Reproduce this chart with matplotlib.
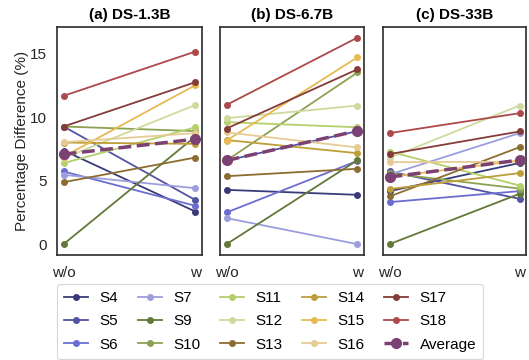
import matplotlib
matplotlib.use("Agg")
import matplotlib.pyplot as plt
import numpy as np

plt.rcParams['font.family'] = ['Liberation Sans', 'DejaVu Sans']
plt.rcParams['font.size'] = 11

series_names = ["S4", "S5", "S6", "S7", "S9", "S10", "S11", "S12", "S13",
                "S14", "S15", "S16", "S17", "S18"]
x_labels = ["w/o", "w"]
panel_titles = ["(a) DS-1.3B", "(b) DS-6.7B", "(c) DS-33B"]

# values (w/o, w) per series for each panel
ds13_wo = [7.38, 9.26, 5.74, 5.48, 0.05, 9.26, 6.39, 6.78, 4.90, 8.00, 6.90, 8.03, 9.26, 11.66]
ds13_w = [2.60, 3.50, 3.05, 4.43, 8.48, 8.90, 9.20, 10.95, 6.83, 7.90, 12.50, 8.74, 12.73, 15.13]
ds67_wo = [4.30, 6.60, 2.53, 2.09, 0.05, 6.60, 9.60, 9.91, 5.37, 8.20, 8.16, 8.80, 9.10, 10.95]
ds67_w = [3.91, 8.90, 6.57, 0.05, 6.62, 13.49, 9.20, 10.90, 5.95, 7.17, 14.68, 7.62, 13.74, 16.22]
ds33_wo = [4.20, 5.74, 3.34, 5.50, 0.05, 5.60, 7.30, 6.80, 3.78, 4.36, 5.30, 6.47, 7.10, 8.74]
ds33_w = [6.40, 3.60, 4.20, 8.74, 3.99, 4.40, 4.64, 10.90, 7.64, 5.61, 6.60, 6.50, 8.87, 10.30]

avg_wo = [7.09, 6.60, 5.30]
avg_w = [8.27, 8.92, 6.63]

panels = [(ds13_wo, ds13_w), (ds67_wo, ds67_w), (ds33_wo, ds33_w)]

cmap = plt.get_cmap("tab20b")
colors = [cmap(i) for i in range(14)]
avg_color = cmap(16)

fig = plt.figure(figsize=(5.29, 3.6), dpi=100)
W, H = 529, 360
axes_px = [(57, 202), (220, 364), (383, 526)]
top_px, bot_px = 27, 255
axes = []
for i, (l, r) in enumerate(axes_px):
    ax = fig.add_axes([l / W, 1 - bot_px / H, (r - l) / W, (bot_px - top_px) / H],
                      sharey=axes[0] if axes else None)
    axes.append(ax)

x = np.arange(len(x_labels))
handles = []
for pi, ax in enumerate(axes):
    wo, w = panels[pi]
    for si, name in enumerate(series_names):
        ln, = ax.plot(x, [wo[si], w[si]], color=colors[si], lw=1.3,
                      marker='o', markersize=4, label=name)
        if pi == 0:
            handles.append(ln)
    ln, = ax.plot(x, [avg_wo[pi], avg_w[pi]], color=avg_color, lw=2.5,
                  ls='--', marker='o', markersize=7, label="Average", zorder=5)
    if pi == 0:
        handles.append(ln)
    ax.set_title(panel_titles[pi], fontweight='bold', fontsize=11, pad=6)
    ax.set_xticks(x)
    ax.set_xticklabels(x_labels)
    ax.set_xlim(-0.05, 1.05)
    ax.tick_params(axis='both', length=0, labelsize=11, colors='#262626')
    ax.tick_params(axis='x', pad=8)
    ax.tick_params(axis='y', pad=7)
    for sp in ax.spines.values():
        sp.set_color('#333333')
        sp.set_linewidth(1.25)
    if pi > 0:
        plt.setp(ax.get_yticklabels(), visible=False)

axes[0].set_ylim(-0.8, 17.05)
axes[0].set_yticks([0, 5, 10, 15])
axes[0].set_ylabel("Percentage Difference (%)", fontsize=11, color='#262626', labelpad=1)

leg = fig.legend(handles=handles, labels=[h.get_label() for h in handles],
                 ncol=5, loc='upper left', bbox_to_anchor=(57 / W, 1 - 284 / H),
                 borderaxespad=0, frameon=True, fontsize=11, handlelength=1.6,
                 handletextpad=0.75, columnspacing=1.25, labelspacing=0.62,
                 borderpad=0.45, fancybox=True)
leg.get_frame().set_edgecolor('#cccccc')
leg.get_frame().set_linewidth(0.8)

fig.savefig("out.png", dpi=100)
